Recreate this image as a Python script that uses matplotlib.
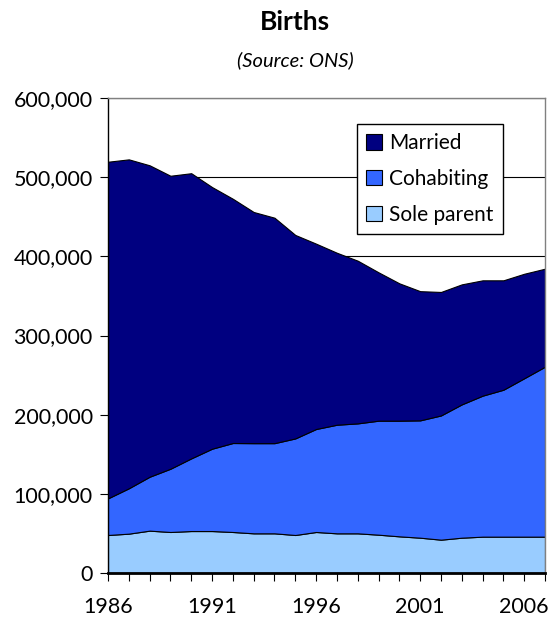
import matplotlib
matplotlib.use("Agg")
import matplotlib.pyplot as plt
from matplotlib.ticker import FuncFormatter, MultipleLocator

plt.rcParams['font.family'] = ['Lato', 'DejaVu Sans']

years = list(range(1986, 2008))
# cumulative tops, converted to component values
sole_parent = [48000, 49700, 53500, 51800, 53000, 53000, 51800, 50100, 50100, 48000, 51800,
               50100, 50100, 48400, 46300, 44600, 42100, 44600, 45900, 45900, 45900, 45900]
cohab_top = [94300, 107000, 121600, 131700, 144800, 157000, 164200, 164000, 164000, 170000, 181900,
             187300, 189000, 192400, 192400, 192800, 199000, 213000, 224000, 231500, 246000, 260600]
total = [519500, 522500, 515000, 501800, 505000, 487500, 472700, 456000, 448800, 427000, 416000,
         404500, 394500, 379800, 365900, 356000, 355000, 364600, 369700, 369700, 378000, 384400]
cohabiting = [c - s for c, s in zip(cohab_top, sole_parent)]
married = [t - c for t, c in zip(total, cohab_top)]

labels = ['Sole parent', 'Cohabiting', 'Married']
colors = ['#99CCFF', '#3366FF', '#000080']

fig = plt.figure(figsize=(5.48, 6.23), dpi=100)
ax = fig.add_axes([108/548, 1-573/623, (545-108)/548, (573-98)/623])

polys = ax.stackplot(years, sole_parent, cohabiting, married, colors=colors,
                     labels=labels, edgecolor='black', linewidth=0.8, zorder=2)

ax.set_xlim(1986, 2007)
ax.set_ylim(0, 600000)
ax.yaxis.set_major_locator(MultipleLocator(100000))
ax.yaxis.set_major_formatter(FuncFormatter(lambda v, p: f"{int(v):,}"))
ax.set_xticks(years)
ax.set_xticklabels([str(y) if (y - 1986) % 5 == 0 else '' for y in years])
ax.grid(axis='y', color='black', linewidth=0.8, zorder=0)
ax.set_axisbelow(True)

ax.tick_params(axis='both', direction='out', length=6, width=0.8, colors='black', labelsize=15.5)
ax.tick_params(axis='x', pad=11)
ax.tick_params(axis='y', pad=5)
ax.spines['top'].set_color('#808080')
ax.spines['right'].set_color('#808080')
ax.spines['left'].set_color('black')
ax.spines['bottom'].set_color('black')
ax.spines['bottom'].set_linewidth(2)
for s in ['top', 'right', 'left']:
    ax.spines[s].set_linewidth(1)

handles, labs = ax.get_legend_handles_labels()
leg = ax.legend(handles[::-1], labs[::-1], loc='upper left',
                bbox_to_anchor=((357-108)/437, (573-124)/475), fontsize=15,
                frameon=True, fancybox=False, edgecolor='black', framealpha=1,
                handlelength=0.75, handleheight=0.75, handletextpad=0.35,
                labelspacing=0.75, borderpad=0.45, borderaxespad=0)
leg.get_frame().set_linewidth(1)

fig.text(295/548, 1-22/623, 'Births', ha='center', va='center', fontsize=19, fontweight='bold')
fig.text(295/548, 1-60/623, '(Source: ONS)', ha='center', va='center', fontsize=14.5, style='italic')

fig.savefig('out.png', dpi=100)
